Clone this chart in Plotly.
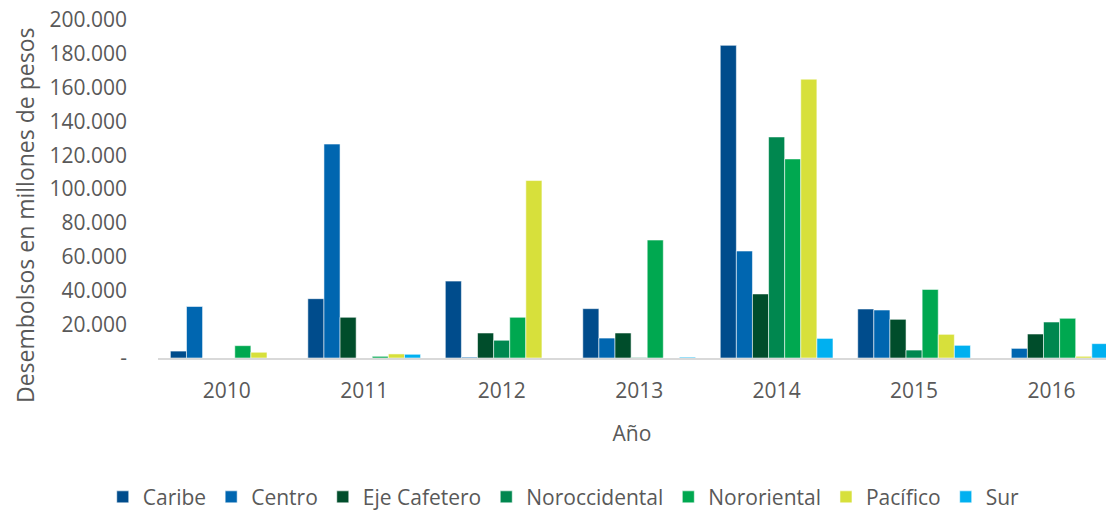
import plotly.graph_objects as go

years = ["2010", "2011", "2012", "2013", "2014", "2015", "2016"]
series_names = ["Caribe", "Centro", "Eje Cafetero", "Noroccidental", "Nororiental", "Pacífico", "Sur"]

caribe = [4100, 35100, 45500, 29200, 185000, 29000, 0]
centro = [30500, 126600, 500, 11800, 63300, 28400, 5700]
eje_cafetero = [0, 24100, 14800, 14800, 37900, 22900, 14200]
noroccidental = [0, 0, 10500, 300, 130800, 4700, 21300]
nororiental = [7300, 1000, 24100, 69800, 117800, 40600, 23500]
pacifico = [3400, 2400, 105000, 0, 165000, 14000, 1000]
sur = [0, 2200, 0, 500, 11600, 7500, 8500]

colors = ["#004C8C", "#0066B0", "#004D2B", "#00874F", "#00A850", "#D7E03B", "#00B0F0"]

ytick_vals = [0, 20000, 40000, 60000, 80000, 100000, 120000, 140000, 160000, 180000, 200000]
ytick_text = ["-", "20.000", "40.000", "60.000", "80.000", "100.000", "120.000",
              "140.000", "160.000", "180.000", "200.000"]

y_title = "Desembolsos en millones de pesos"
x_title = "Año"

all_series = [caribe, centro, eje_cafetero, noroccidental, nororiental, pacifico, sur]

font_family = "Open Sans"
grey = "#595959"

fig = go.Figure()
for name, vals, col in zip(series_names, all_series, colors):
    fig.add_trace(go.Bar(
        x=years, y=vals, name=name,
        marker=dict(color=col, line=dict(color="rgba(255,255,255,0.55)", width=1)),
    ))

fig.update_layout(
    width=1106, height=511,
    barmode="group", bargap=0.18, bargroupgap=0,
    plot_bgcolor="white", paper_bgcolor="white",
    margin=dict(l=158, r=0, t=20, b=153, autoexpand=False),
    font=dict(family=font_family, size=20, color=grey),
    showlegend=True,
    legend=dict(orientation="h", x=0.428, xanchor="center",
                yref="container", y=0.027, yanchor="middle",
                font=dict(size=21, color=grey), itemwidth=30, traceorder="normal"),
    annotations=[dict(
        text=y_title, textangle=-90, showarrow=False,
        xref="paper", x=0, xshift=-133, xanchor="center",
        yref="paper", y=0, yshift=142, yanchor="middle",
        font=dict(size=23, color=grey, family=font_family),
    )],
)
fig.update_xaxes(
    type="category", range=[-0.5, 6.396],
    showline=True, linecolor="#D9D9D9", linewidth=2,
    showgrid=False, ticks="", ticklabelstandoff=13,
    tickfont=dict(size=21, color=grey),
    title=dict(text=x_title, font=dict(size=21, color=grey), standoff=23),
)
fig.update_yaxes(
    range=[0, 200000], tickvals=ytick_vals, ticktext=ytick_text,
    showgrid=False, showline=False, zeroline=False, ticks="",
    ticklabelstandoff=30,
    tickfont=dict(size=21, color=grey),
)

fig.write_html("out.html", config={"displayModeBar": False},
               post_script="document.body.style.margin='0';document.body.style.overflow='hidden';")
